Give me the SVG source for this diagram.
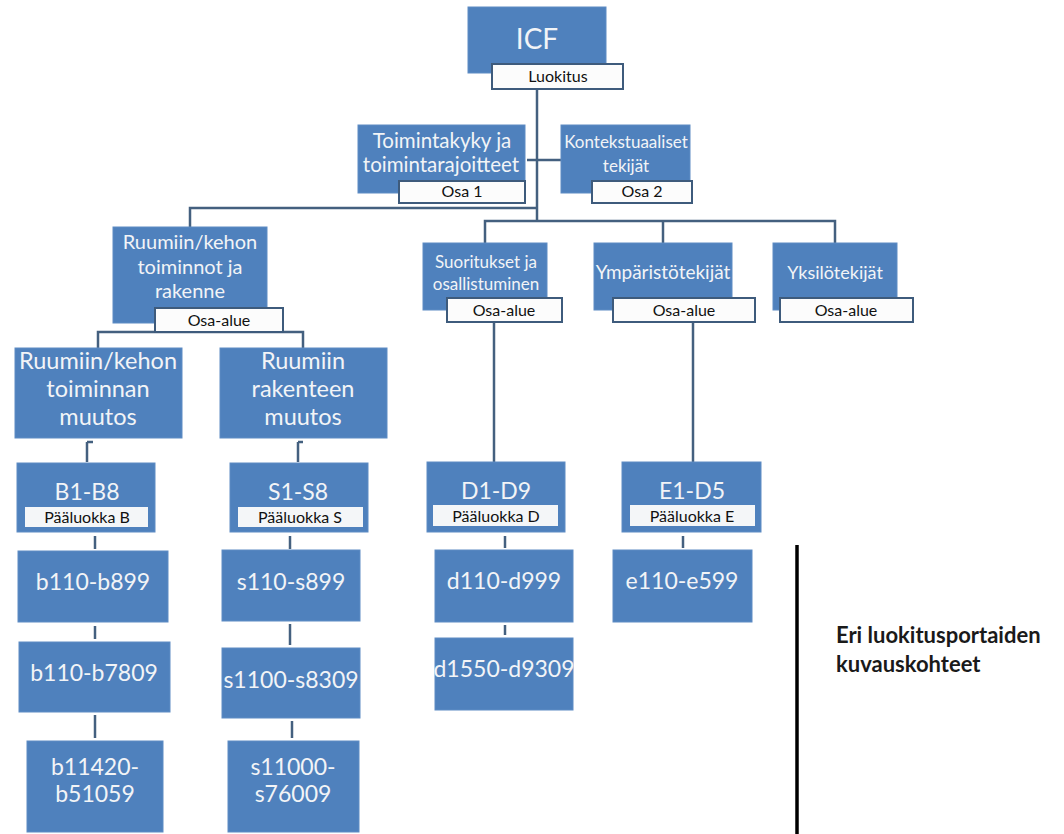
<svg xmlns="http://www.w3.org/2000/svg" width="1064" height="834" viewBox="0 0 1064 834">
<style>
.box{fill:#4F81BD;stroke:#5E8CC4;stroke-width:1}
.lbl{fill:#FCFCFC;stroke:#3E5B7C;stroke-width:2}
.pl{fill:#F4F6F8;stroke:none}
.conn{stroke:#44607F;stroke-width:2.5;fill:none}
.t{font-family:Lato,"Open Sans",sans-serif;fill:#F2F4F7;text-anchor:middle}
.lt{font-family:Lato,"Open Sans",sans-serif;fill:#111;text-anchor:middle;font-size:16px}
</style>
<rect width="1064" height="834" fill="#fff"/>
<g id="connectors">
<path class="conn" d="M537 89 V221"/>
<path class="conn" d="M527 160 H561"/>
<path class="conn" d="M190 227 V208 H537"/>
<path class="conn" d="M485 243 V221 H835 V243"/>
<path class="conn" d="M663 221 V243"/>
<path class="conn" d="M98 348 V332 H303 V348"/>
<path class="conn" d="M494 322 V462"/>
<path class="conn" d="M693 322 V462"/>
<path class="conn" d="M87 442 V462 M87 442 H93"/>
<path class="conn" d="M298 442 V462 M298 442 H303"/>
<path class="conn" d="M95 536 V549"/>
<path class="conn" d="M290 536 V549"/>
<path class="conn" d="M505 536 V548"/>
<path class="conn" d="M683 536 V548"/>
<path class="conn" d="M95 626 V639"/>
<path class="conn" d="M290 624 V645"/>
<path class="conn" d="M505 625 V635"/>
<path class="conn" d="M95 715 V738"/>
<path class="conn" d="M292 721 V738"/>
<path d="M797 545 V834" stroke="#000" stroke-width="3.5"/>
</g>
<g id="icf">
<rect class="box" x="468" y="7" width="138" height="66"/>
<text class="t" x="537" y="49" font-size="28">ICF</text>
<rect class="lbl" x="492" y="64" width="131" height="25"/>
<text class="lt" x="558" y="82">Luokitus</text>
</g>
<g id="osa1">
<rect class="box" x="358" y="125" width="167" height="68"/>
<text class="t" x="442" y="148" font-size="20.5">Toimintakyky ja</text>
<text class="t" x="441" y="172" font-size="20.5">toimintarajoitteet</text>
<rect class="lbl" x="399" y="181" width="126" height="22"/>
<text class="lt" x="462" y="197">Osa 1</text>
</g>
<g id="osa2">
<rect class="box" x="561" y="125" width="129" height="68"/>
<text class="t" x="626" y="148" font-size="17">Kontekstuaaliset</text>
<text class="t" x="626" y="172" font-size="17">tekijät</text>
<rect class="lbl" x="592" y="181" width="100" height="22"/>
<text class="lt" x="642" y="197">Osa 2</text>
</g>
<g id="ruumiin">
<rect class="box" x="113" y="227" width="154" height="96"/>
<text class="t" x="190" y="249" font-size="20">Ruumiin/kehon</text>
<text class="t" x="190" y="274" font-size="20">toiminnot ja</text>
<text class="t" x="190" y="298" font-size="20">rakenne</text>
<rect class="lbl" x="155" y="308" width="128" height="24"/>
<text class="lt" x="219" y="326">Osa-alue</text>
</g>
<g id="suoritukset">
<rect class="box" x="423" y="243" width="124" height="67"/>
<text class="t" x="486" y="268" font-size="17">Suoritukset ja</text>
<text class="t" x="486" y="290" font-size="17">osallistuminen</text>
<rect class="lbl" x="447" y="298" width="115" height="24"/>
<text class="lt" x="504" y="316">Osa-alue</text>
</g>
<g id="ymparisto">
<rect class="box" x="594" y="243" width="138" height="67"/>
<text class="t" x="663" y="279" font-size="19">Ympäristötekijät</text>
<rect class="lbl" x="613" y="298" width="142" height="24"/>
<text class="lt" x="684" y="316">Osa-alue</text>
</g>
<g id="yksilo">
<rect class="box" x="773" y="243" width="124" height="67"/>
<text class="t" x="835" y="279" font-size="18">Yksilötekijät</text>
<rect class="lbl" x="780" y="298" width="133" height="24"/>
<text class="lt" x="846" y="316">Osa-alue</text>
</g>
<g id="toiminnan-muutos">
<rect class="box" x="15" y="348" width="167" height="90"/>
<text class="t" x="98" y="369" font-size="23.5">Ruumiin/kehon</text>
<text class="t" x="98" y="397" font-size="23.5">toiminnan</text>
<text class="t" x="98" y="425" font-size="23.5">muutos</text>
</g>
<g id="rakenteen-muutos">
<rect class="box" x="220" y="348" width="167" height="90"/>
<text class="t" x="303" y="369" font-size="23.5">Ruumiin</text>
<text class="t" x="303" y="397" font-size="23.5">rakenteen</text>
<text class="t" x="303" y="425" font-size="23.5">muutos</text>
</g>
<g id="b1b8">
<rect class="box" x="17" y="463" width="138" height="69"/>
<text class="t" x="87" y="500" font-size="23">B1-B8</text>
<rect class="pl" x="25" y="507" width="123" height="20"/>
<text class="lt" x="87" y="523">Pääluokka B</text>
</g>
<g id="s1s8">
<rect class="box" x="230" y="463" width="138" height="69"/>
<text class="t" x="298" y="500" font-size="23">S1-S8</text>
<rect class="pl" x="238" y="507" width="125" height="20"/>
<text class="lt" x="300" y="523">Pääluokka S</text>
</g>
<g id="d1d9">
<rect class="box" x="427" y="462" width="138" height="70"/>
<text class="t" x="496" y="499" font-size="23">D1-D9</text>
<rect class="pl" x="433" y="505" width="125" height="21"/>
<text class="lt" x="496" y="522">Pääluokka D</text>
</g>
<g id="e1d5">
<rect class="box" x="622" y="462" width="139" height="70"/>
<text class="t" x="692" y="499" font-size="23">E1-D5</text>
<rect class="pl" x="630" y="505" width="125" height="21"/>
<text class="lt" x="692" y="522">Pääluokka E</text>
</g>
<g id="b110-b899">
<rect class="box" x="18" y="551" width="150" height="71"/>
<text class="t" x="93" y="590" font-size="23">b110-b899</text>
</g>
<g id="s110-s899">
<rect class="box" x="222" y="550" width="138" height="71"/>
<text class="t" x="291" y="590" font-size="23">s110-s899</text>
</g>
<g id="d110-d999">
<rect class="box" x="435" y="550" width="138" height="72"/>
<text class="t" x="504" y="589" font-size="23">d110-d999</text>
</g>
<g id="e110-e599">
<rect class="box" x="613" y="550" width="139" height="72"/>
<text class="t" x="682" y="589" font-size="23">e110-e599</text>
</g>
<g id="b110-b7809">
<rect class="box" x="19" y="642" width="151" height="70"/>
<text class="t" x="94" y="681" font-size="23">b110-b7809</text>
</g>
<g id="s1100-s8309">
<rect class="box" x="222" y="648" width="138" height="70"/>
<text class="t" x="291" y="688" font-size="23">s1100-s8309</text>
</g>
<g id="d1550-d9309">
<rect class="box" x="435" y="638" width="138" height="72"/>
<text class="t" x="504" y="677" font-size="23">d1550-d9309</text>
</g>
<g id="b11420">
<rect class="box" x="27" y="741" width="136" height="91"/>
<text class="t" x="95" y="775" font-size="23">b11420-</text>
<text class="t" x="95" y="802" font-size="23">b51059</text>
</g>
<g id="s11000">
<rect class="box" x="228" y="741" width="131" height="91"/>
<text class="t" x="293" y="775" font-size="23">s11000-</text>
<text class="t" x="293" y="802" font-size="23">s76009</text>
</g>
<g id="legend">
<text x="836" y="643" font-family="Lato,'Open Sans',sans-serif" font-weight="bold" font-size="22" fill="#1a1a1a">Eri luokitusportaiden</text>
<text x="836" y="672" font-family="Lato,'Open Sans',sans-serif" font-weight="bold" font-size="22" fill="#1a1a1a">kuvauskohteet</text>
</g>
</svg>
